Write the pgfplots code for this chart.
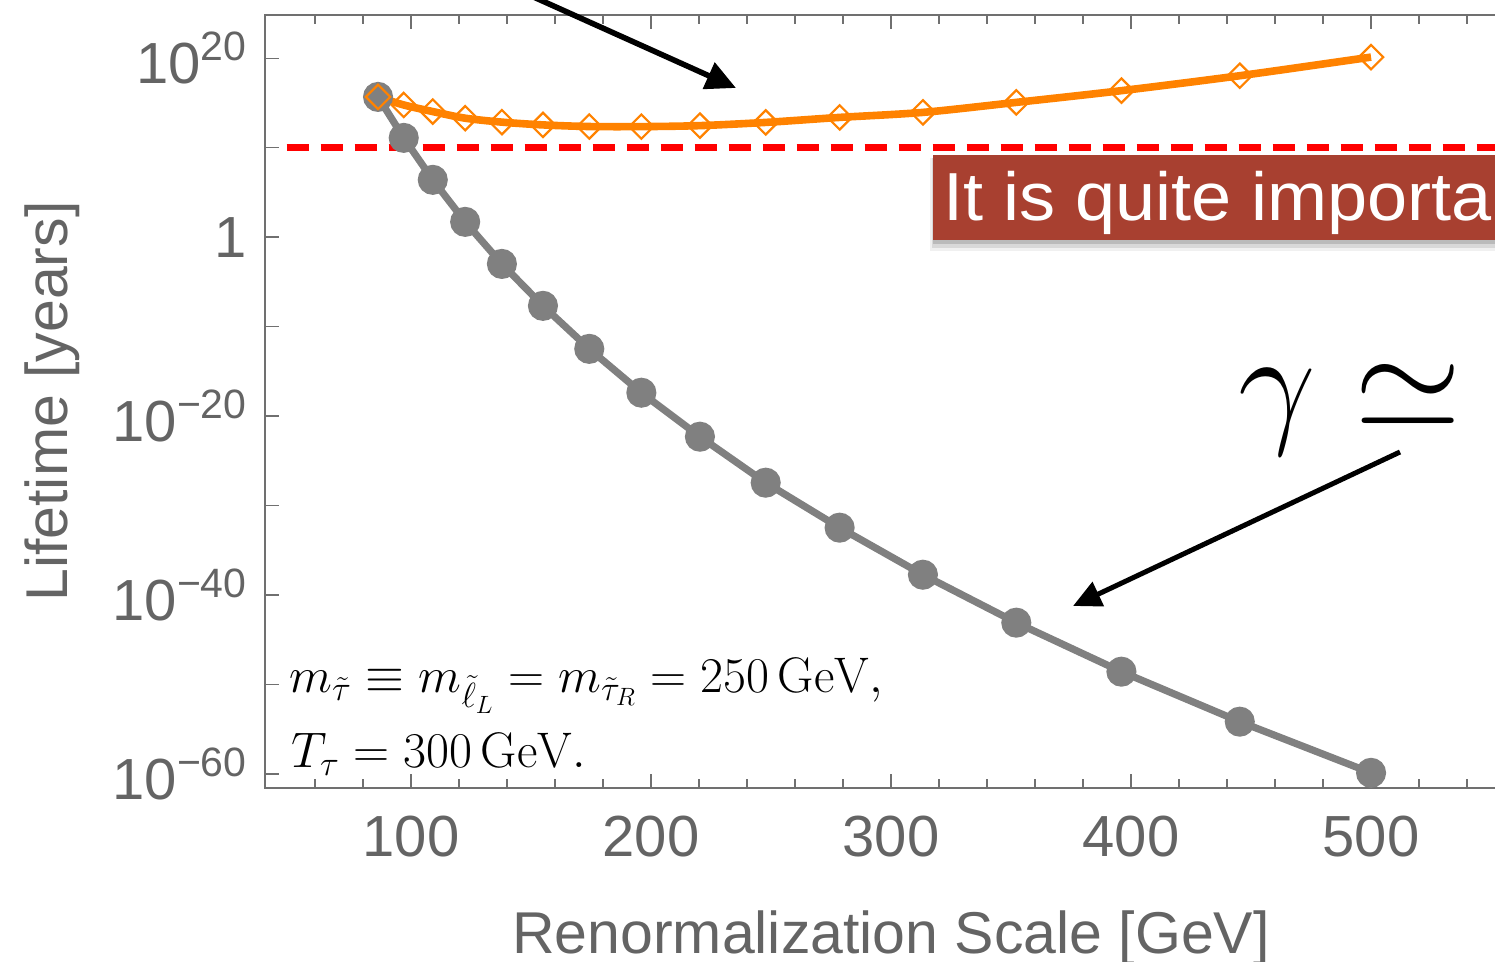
\RequirePackage{fix-cm}
\documentclass[border=0pt]{standalone}
\usepackage{fontspec}
\usepackage{pgfplots}
\pgfplotsset{compat=1.18}
\usetikzlibrary{arrows.meta}

\newfontfamily\arial{Liberation Sans}

\definecolor{labelgray}{RGB}{100,100,100}
\definecolor{axisgray}{RGB}{112,112,112}
\definecolor{seriesgray}{RGB}{128,128,128}
\definecolor{mmaorange}{RGB}{255,130,0}
\definecolor{boxred}{RGB}{168,64,48}

% 10^n tick labels in the sans font
\newcommand{\tenpow}[1]{10\raisebox{11.5pt}{\fontsize{20.5}{20.5}\selectfont #1}}

\begin{document}
\begin{tikzpicture}
\useasboundingbox (0,0) rectangle (747.5pt,481pt);

\begin{axis}[
  at={(132.5pt,87pt)}, anchor=south west,
  scale only axis, width=626pt, height=386.5pt,
  xmin=39.2, xmax=560.8,
  ymode=log, ymin=2.6e-62, ymax=6.9e24,
  axis line style={draw=axisgray, line width=1.2pt},
  tick style={draw=axisgray, line width=0.7pt},
  major tick length=7pt, minor tick length=4.5pt,
  xtick={100,200,300,400,500},
  xticklabels={100,200,300,400,500},
  minor xtick={60,80,...,540},
  ytick={1e-60,1e-50,1e-40,1e-30,1e-20,1e-10,1,1e10,1e20},
  yticklabels={\tenpow{−60},,\tenpow{−40},,\tenpow{−20},,1,,\tenpow{20}},
  minor y tick num=0,
  xticklabel style={anchor=base, yshift=-34.5pt, font=\arial\fontsize{29}{29}\selectfont, text=labelgray},
  yticklabel style={anchor=east, inner sep=0pt, xshift=-9pt, font=\arial\fontsize{29}{29}\selectfont, text=labelgray},
  xlabel={Renormalization Scale [GeV]},
  ylabel={Lifetime [years]},
  xlabel style={at={(axis description cs:0.5,-0.2147)}, anchor=base, font=\arial\fontsize{29.5}{29.5}\selectfont, text=labelgray},
  ylabel style={at={(axis description cs:-0.1581,0.5)}, anchor=base, font=\arial\fontsize{29.5}{29.5}\selectfont, text=labelgray},
]

% gray series
\addplot[seriesgray, line width=3.6pt, mark=*, mark size=5.7pt,
         mark options={draw=none, fill=seriesgray}] coordinates {
  (86.3,4.79e15) (97.0,1.26e11) (109.1,2.57e6) (122.6,51.3)
  (137.9,1.02e-3) (155.0,2.09e-8) (174.3,3.24e-13) (196.0,4.07e-18)
  (220.4,4.9e-23) (247.8,3.55e-28) (278.6,3.31e-33) (313.3,1.82e-38)
  (352.2,7.94e-44) (396.0,2.63e-49) (445.3,6.76e-55) (500.0,1.29e-60)
};

% orange series
\addplot[mmaorange, line width=3.8pt, smooth, mark=square, mark size=4.3pt,
         mark options={rotate=45, line width=1.1pt, solid}] coordinates {
  (86.3,4.79e15) (97.0,6.03e14) (109.1,1.10e14) (122.6,2.00e13)
  (137.9,7.24e12) (155.0,3.55e12) (174.3,2.34e12) (196.0,2.29e12)
  (220.4,2.95e12) (247.8,6.76e12) (278.6,2.45e13) (313.3,8.91e13)
  (352.2,1.17e15) (396.0,2.40e16) (445.3,1.12e18) (500.0,1.35e20)
};

% bound
\addplot[red, line width=3.4pt, dash pattern=on 11.25pt off 5.75pt] coordinates {
  (48.2,1e10) (560.8,1e10)
};
\end{axis}

% parameters
\node[anchor=base west, inner sep=0pt, font=\fontsize{25}{25}\selectfont] at (144.5pt,134.5pt)
  {$m_{\tilde\tau}\equiv m_{\tilde\ell_L}=m_{\tilde\tau_R}=250\,\mathrm{GeV},$};
\node[anchor=base west, inner sep=0pt, font=\fontsize{25}{25}\selectfont] at (145.5pt,97pt)
  {$T_\tau=300\,\mathrm{GeV}.$};

% slide overlay
\begin{scope}
\clip (0,0) rectangle (747.5pt,481pt);
\fill[black, opacity=0.06] (465pt,355.5pt) rectangle (760pt,402pt);
\fill[black, opacity=0.10] (466pt,357pt) rectangle (760pt,402pt);
\fill[black, opacity=0.14] (466.5pt,359pt) rectangle (760pt,402pt);
\fill[boxred] (466.5pt,361pt) rectangle (760pt,403.5pt);
\node[anchor=base west, inner sep=0pt, text=white, xscale=1.06, font=\arial\fontsize{34}{34}\selectfont]
  at (471.3pt,370.5pt) {It is quite important};
\node[anchor=base west, inner sep=0pt, font=\fontsize{69}{69}\selectfont] at (619pt,266.5pt)
  {$\gamma\simeq$};
\draw[black, line width=2.8pt, -{Triangle[length=15pt,width=14pt]}] (259pt,486pt) -- (368pt,437pt);
\draw[black, line width=2.5pt, -{Triangle[length=14pt,width=13pt]}] (700pt,255pt) -- (536.5pt,178pt);
\end{scope}
\end{tikzpicture}
\end{document}
